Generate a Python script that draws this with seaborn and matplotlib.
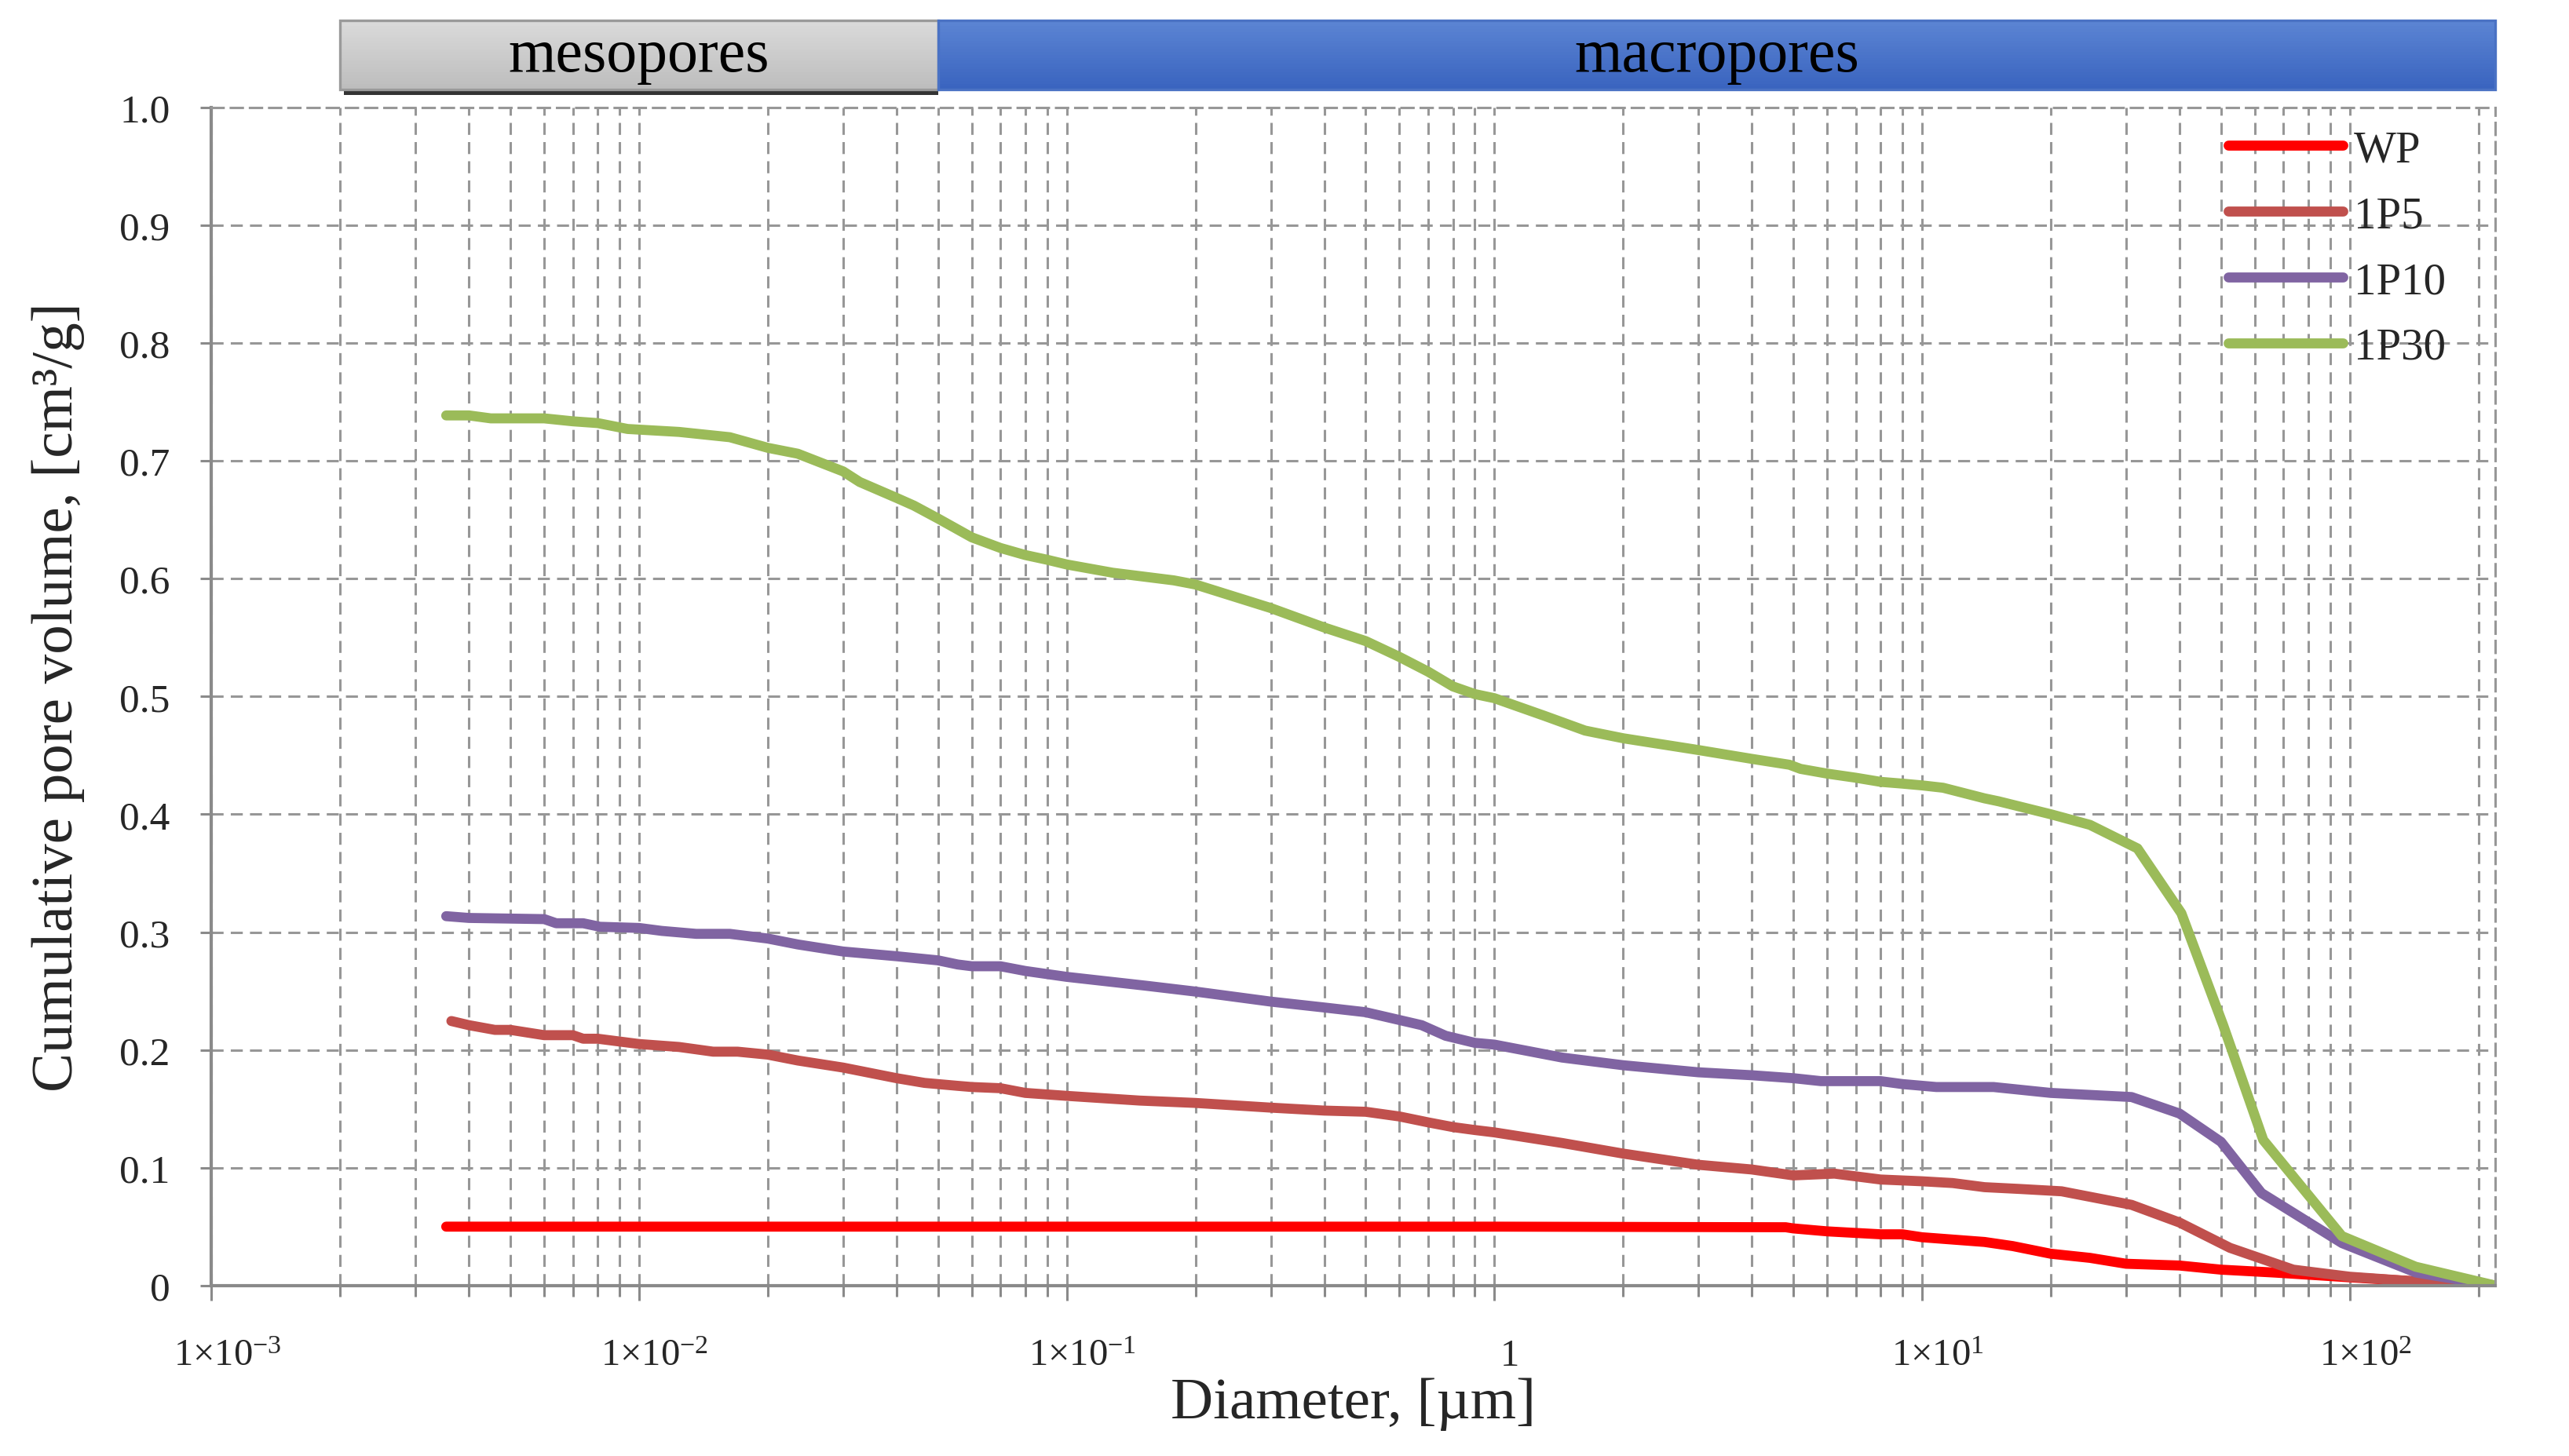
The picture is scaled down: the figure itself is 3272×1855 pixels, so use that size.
import matplotlib
matplotlib.use("Agg")
import matplotlib.pyplot as plt
import matplotlib.transforms as mtransforms
from matplotlib.colors import to_rgb
from matplotlib.patches import Rectangle
from matplotlib.ticker import FixedLocator, NullFormatter
import seaborn as sns
import pandas as pd
import numpy as np

# values (diameter in um, volume in cm3/g)
samples = ["WP", "1P5", "1P10", "1P30"]
colors = ["#ff0000", "#c0504d", "#8064a2", "#9bbb59"]

wp_d = [0.00354, 0.01, 0.1, 1.0, 4.8, 5.0, 6.0, 8.0, 9.0, 10.0, 14.0, 16.3,
        20.0, 24.7, 30.0, 40.0, 50.0, 67.0, 100.0, 143.0, 219.0]
wp_v = [0.05, 0.05, 0.05, 0.05, 0.0495, 0.0485, 0.046, 0.0435, 0.0435, 0.041, 0.037, 0.0335,
        0.027, 0.0235, 0.0185, 0.017, 0.0135, 0.011, 0.007, 0.0035, 0.0]

p5_d = [0.00364, 0.004, 0.0046, 0.005, 0.006, 0.007, 0.0074, 0.008, 0.01, 0.0124,
        0.0149, 0.017, 0.02, 0.0235, 0.03, 0.04, 0.0465, 0.0556, 0.06, 0.07,
        0.08, 0.1, 0.148, 0.2, 0.3, 0.4, 0.5, 0.6, 0.7, 0.8,
        0.9, 1.0, 1.44, 2.0, 3.0, 4.0, 5.0, 6.24, 8.0, 10.0,
        11.8, 14.0, 16.9, 21.2, 30.9, 40.0, 52.5, 73.8, 100.0, 143.0, 219.0]
p5_v = [0.2245, 0.221, 0.217, 0.217, 0.2125, 0.2125, 0.2095, 0.2095, 0.205, 0.2025,
        0.1985, 0.1985, 0.196, 0.191, 0.185, 0.176, 0.172, 0.1695, 0.1685, 0.1675,
        0.1635, 0.161, 0.157, 0.155, 0.151, 0.1485, 0.1475, 0.1435, 0.1385, 0.1345,
        0.132, 0.13, 0.121, 0.112, 0.1025, 0.0985, 0.0935, 0.095, 0.09, 0.0885,
        0.087, 0.0835, 0.082, 0.08, 0.0685, 0.0535, 0.032, 0.0135, 0.0075, 0.0035, 0.0]

p10_d = [0.00354, 0.004, 0.006, 0.0064, 0.0074, 0.0081, 0.01, 0.0113, 0.0136, 0.0163,
         0.02, 0.0235, 0.03, 0.04, 0.05, 0.0556, 0.06, 0.07, 0.08, 0.1,
         0.153, 0.2, 0.3, 0.4, 0.5, 0.676, 0.769, 0.9, 1.0, 1.44,
         2.0, 3.0, 4.0, 5.0, 5.8, 8.0, 9.0, 10.8, 14.7, 20.0,
         30.9, 40.0, 50.0, 62.2, 96.0, 143.0, 219.0]
p10_v = [0.3135, 0.312, 0.311, 0.3075, 0.3075, 0.3045, 0.3035, 0.301, 0.2985, 0.2985,
         0.2945, 0.2895, 0.2835, 0.2795, 0.276, 0.2725, 0.271, 0.271, 0.267, 0.262,
         0.2545, 0.2495, 0.241, 0.236, 0.232, 0.221, 0.212, 0.206, 0.2045, 0.1935,
         0.187, 0.181, 0.1785, 0.176, 0.1735, 0.1735, 0.171, 0.1685, 0.1685, 0.1635,
         0.16, 0.146, 0.122, 0.0785, 0.036, 0.011, 0.0]

p30_d = [0.00354, 0.004, 0.0045, 0.006, 0.007, 0.008, 0.0094, 0.0124, 0.0163, 0.02,
         0.0235, 0.03, 0.0328, 0.04, 0.0439, 0.05, 0.06, 0.07, 0.08, 0.09,
         0.1, 0.128, 0.178, 0.2, 0.3, 0.4, 0.5, 0.6, 0.7, 0.8,
         0.9, 1.0, 1.31, 1.63, 2.0, 3.0, 4.0, 4.9, 5.2, 6.0,
         7.0, 8.0, 9.0, 10.0, 11.2, 14.0, 15.1, 20.0, 24.7, 31.9,
         40.4, 50.6, 62.8, 95.9, 142.6, 219.0]
p30_v = [0.7385, 0.7385, 0.736, 0.736, 0.7335, 0.732, 0.727, 0.7245, 0.72, 0.711,
         0.706, 0.691, 0.682, 0.6685, 0.662, 0.651, 0.635, 0.626, 0.62, 0.616,
         0.612, 0.605, 0.5985, 0.595, 0.575, 0.5585, 0.547, 0.5335, 0.521, 0.5085,
         0.502, 0.4985, 0.4835, 0.471, 0.4645, 0.4545, 0.447, 0.442, 0.4385, 0.4345,
         0.431, 0.4275, 0.426, 0.4245, 0.4225, 0.4135, 0.411, 0.4, 0.391, 0.371,
         0.316, 0.221, 0.1235, 0.042, 0.016, 0.0]

# pore classes shown in the header band (top / bottom shade of each box)
band_labels = ["mesopores", "macropores"]
band_edges = [0.002, 0.05, 219.0]
band_top = ["#dadada", "#5b84d3"]
band_bottom = ["#bdbdbd", "#3a64bf"]

x_min, x_max = 0.001, 219.0
x_major = [0.001, 0.01, 0.1, 1.0, 10.0, 100.0]
x_major_labels = [r"$1{\times}10^{-3}$", r"$1{\times}10^{-2}$", r"$1{\times}10^{-1}$",
                  "1", r"$1{\times}10^{1}$", r"$1{\times}10^{2}$"]
y_ticks = [0.0, 0.1, 0.2, 0.3, 0.4, 0.5, 0.6, 0.7, 0.8, 0.9, 1.0]
y_labels = ["0", "0.1", "0.2", "0.3", "0.4", "0.5", "0.6", "0.7", "0.8", "0.9", "1.0"]

df = pd.concat([
    pd.DataFrame({"d": d, "v": v, "sample": s})
    for s, d, v in zip(samples, [wp_d, p5_d, p10_d, p30_d], [wp_v, p5_v, p10_v, p30_v])
], ignore_index=True)

sns.set_theme(style="white")
plt.rcParams["font.family"] = ["Liberation Serif", "DejaVu Serif"]
plt.rcParams["mathtext.fontset"] = "custom"
plt.rcParams["mathtext.rm"] = "Liberation Serif"
plt.rcParams["mathtext.it"] = "Liberation Serif:italic"
plt.rcParams["lines.solid_capstyle"] = "round"
plt.rcParams["lines.solid_joinstyle"] = "round"

grid_kw = dict(color="#979797", linestyle=(0, (5, 3)), linewidth=1.1)
axis_col = "#8a8a8a"

fig = plt.figure(figsize=(16.36, 9.28), dpi=200)
ax = fig.add_axes([0.0823, 0.117, 0.889, 0.8088])
band = fig.add_axes([0.0823, 0.9381, 0.889, 0.0473], sharex=ax)

sns.lineplot(data=df, x="d", y="v", hue="sample", hue_order=samples, palette=colors,
             estimator=None, sort=False, lw=4.6, ax=ax)

ax.set_xscale("log")
ax.set_xlim(x_min, x_max)
ax.set_ylim(0, 1)

ax.set_xticks(x_major, x_major_labels)
minor = [m * 10.0 ** e for e in range(-3, 3) for m in range(2, 10) if m * 10.0 ** e < x_max]
ax.xaxis.set_minor_locator(FixedLocator(minor))
ax.xaxis.set_minor_formatter(NullFormatter())
ax.set_yticks(y_ticks, y_labels)

ax.grid(which="major", axis="both", **grid_kw)
ax.grid(which="minor", axis="x", **grid_kw)

for side in ["left", "bottom"]:
    ax.spines[side].set_color(axis_col)
    ax.spines[side].set_linewidth(1.5)
for side in ["top", "right"]:
    ax.spines[side].set_color(grid_kw["color"])
    ax.spines[side].set_linestyle(grid_kw["linestyle"])
    ax.spines[side].set_linewidth(grid_kw["linewidth"])

ax.tick_params(axis="x", which="major", bottom=True, direction="out", length=7, width=1.1,
               color=axis_col, pad=17, labelsize=17.5)
ax.tick_params(axis="x", which="minor", bottom=True, direction="out", length=5, width=1.1,
               color=axis_col)
ax.tick_params(axis="y", left=True, direction="out", length=5, width=1.1,
               color=axis_col, pad=14, labelsize=18.5)

# x tick labels sit a little right of their ticks, as in the original
shift = mtransforms.ScaledTranslation(0.1, 0, fig.dpi_scale_trans)
for lbl in ax.get_xticklabels():
    lbl.set_transform(lbl.get_transform() + shift)

ax.set_xlabel("Diameter, [µm]", fontsize=27, labelpad=2)
ax.set_ylabel("Cumulative pore volume, [cm³/g]", fontsize=27, labelpad=16)

handles, labels = ax.get_legend_handles_labels()
ax.legend(handles, labels, loc="upper left", bbox_to_anchor=(0.883, 0.981), frameon=False,
          fontsize=20.5, handlelength=2.56, handletextpad=0.26, labelspacing=0.56,
          borderpad=0, borderaxespad=0)

# header band with pore classes
band.set_ylim(0, 1)
band.axis("off")
n_strips = 24
for i, lab in enumerate(band_labels):
    x0, x1 = band_edges[i], band_edges[i + 1]
    if i == 0:
        band.add_patch(Rectangle((x0 * 1.02, -0.08), x1 - x0 * 1.02, 1.0, facecolor="#333333",
                                 edgecolor="none", clip_on=False))
    c_top, c_bot = np.array(to_rgb(band_top[i])), np.array(to_rgb(band_bottom[i]))
    for k in range(n_strips):
        f = k / (n_strips - 1)
        band.add_patch(Rectangle((x0, k / n_strips), x1 - x0, 1 / n_strips,
                                 facecolor=c_bot * (1 - f) + c_top * f, edgecolor="none",
                                 clip_on=False))
    band.add_patch(Rectangle((x0, 0), x1 - x0, 1, facecolor="none",
                             edgecolor="#9a9a9a" if i == 0 else "#4a72c4", lw=1.2, clip_on=False))
    band.text(np.sqrt(x0 * x1), 0.48, lab, ha="center", va="center", fontsize=28, color="black")

fig.savefig("out.png", dpi=200)
